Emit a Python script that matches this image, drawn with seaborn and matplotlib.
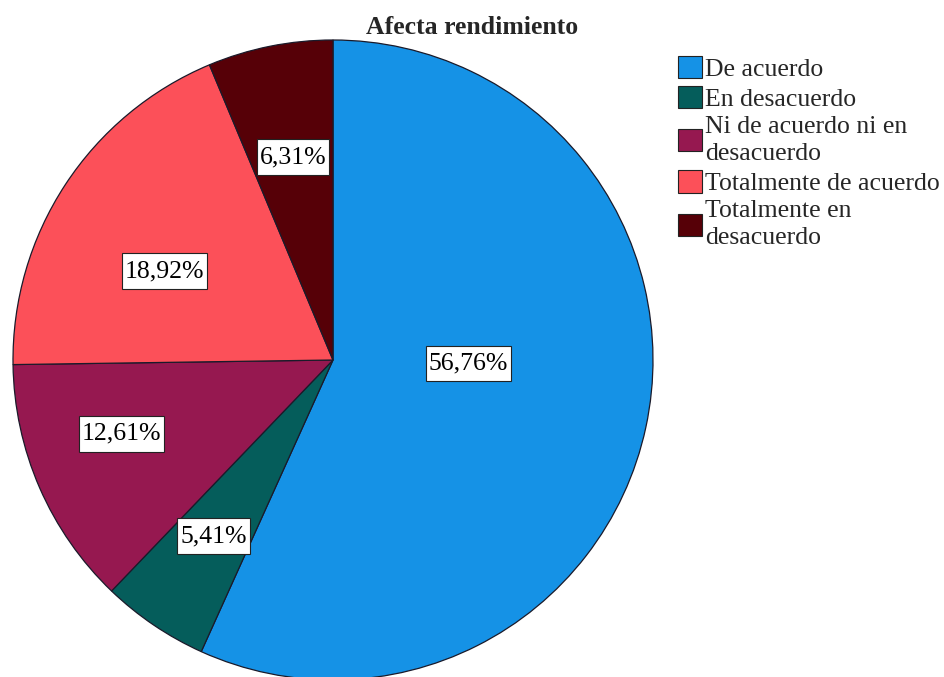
import matplotlib
matplotlib.use("Agg")
import matplotlib.pyplot as plt
import seaborn as sns

# data
categories = ["De acuerdo", "En desacuerdo", "Ni de acuerdo ni en\ndesacuerdo",
              "Totalmente de acuerdo", "Totalmente en\ndesacuerdo"]
percents = [56.76, 5.41, 12.61, 18.92, 6.31]
pct_labels = ["56,76%", "5,41%", "12,61%", "18,92%", "6,31%"]
colors = ["#1592E6", "#055D5B", "#961850", "#FC5059", "#560007"]

# where the percentage boxes sit (pie radius = 1)
label_xy = [(0.423, -0.011), (-0.373, -0.55), (-0.661, -0.231),
            (-0.527, 0.278), (-0.125, 0.634)]

sns.set_style("white")
plt.rcParams["font.family"] = ["Liberation Serif", "DejaVu Serif"]

fig = plt.figure(figsize=(9.45, 6.77), dpi=100)
ax = fig.add_axes([13 / 945, -3 / 677, 640 / 945, 640 / 677])

wedges, texts, autotexts = ax.pie(
    percents, colors=colors, startangle=90, counterclock=False,
    autopct="%1.2f%%", pctdistance=0.65,
    wedgeprops=dict(edgecolor="#1a1a2a", linewidth=0.9), radius=1,
)
ax.set_xlim(-1, 1)
ax.set_ylim(-1, 1)
ax.set_aspect("equal")
ax.axis("off")

for t, lab, xy in zip(autotexts, pct_labels, label_xy):
    t.set_text(lab)
    t.set_position(xy)
    t.set_fontsize(18.5)
    t.set_color("black")
    t.set_bbox(dict(boxstyle="square,pad=0.12", mutation_aspect=2.2,
                    facecolor="white", edgecolor="#222222", linewidth=0.8))

fig.text(0.5, 1 - 28 / 677, "Afecta rendimiento", ha="center", va="center",
         fontsize=18.5, fontweight="bold")

leg = fig.legend(wedges, categories, loc="upper left",
                 bbox_to_anchor=(678 / 945, 1 - 56 / 677), frameon=False,
                 fontsize=18.5, handlelength=0.95, handleheight=0.95,
                 handletextpad=0.12, labelspacing=0.2, borderaxespad=0,
                 borderpad=0)
for h in leg.legend_handles:
    h.set_edgecolor("#222222")
    h.set_linewidth(0.8)
for t in leg.get_texts():
    t.set_linespacing(1.3)

fig.savefig("out.png", dpi=100)
